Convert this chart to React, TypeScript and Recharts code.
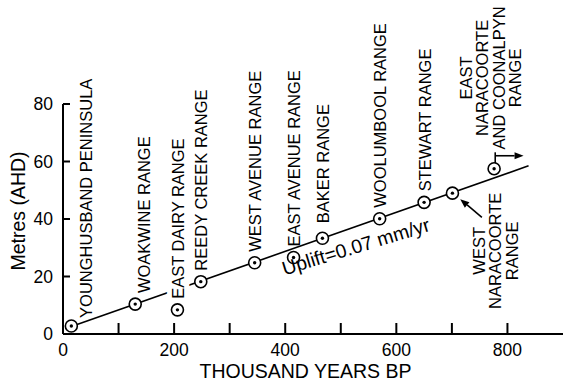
import React from "react";
import {
  ScatterChart,
  Scatter,
  XAxis,
  YAxis,
  ReferenceLine,
  ReferenceDot,
} from "recharts";

// beach ridge ranges: age (thousand years BP) and elevation (m AHD)
const rangeNames = [
  "YOUNGHUSBAND PENINSULA",
  "WOAKWINE RANGE",
  "EAST DAIRY RANGE",
  "REEDY CREEK RANGE",
  "WEST AVENUE RANGE",
  "EAST AVENUE RANGE",
  "BAKER RANGE",
  "WOOLUMBOOL RANGE",
  "STEWART RANGE",
  "WEST NARACOORTE RANGE",
  "EAST NARACOORTE AND COONALPYN RANGE",
];
const rangeAges = [15, 130, 206, 248, 345, 415, 467, 570, 650, 701, 776];
const rangeHeights = [2.8, 10.4, 8.4, 18.2, 24.8, 26.6, 33.3, 40.1, 45.8, 49.0, 57.5];

// fitted uplift line
const upliftAges = [15, 838];
const upliftHeights = [2.6, 58.5];
const upliftText = "Uplift=0.07 mm/yr";
const upliftTextAge = 527;
const upliftTextHeight = 30.5;

// pointer to West Naracoorte, and "older than" marker on East Naracoorte
const westPointerAges = [754, 715];
const westPointerHeights = [40.6, 46.9];
const eastBarAges = [778, 778];
const eastBarHeights = [58.3, 63.2];
const eastArrowAges = [778, 829];
const eastArrowHeights = [62, 62];

const xTicks = [0, 100, 200, 300, 400, 500, 600, 700, 800];
const xLabelled = [0, 200, 400, 600, 800];
const yTicks = [0, 20, 40, 60, 80];

const points = rangeNames.map((name, i) => ({
  name,
  x: rangeAges[i],
  y: rangeHeights[i],
}));
const upliftLine = upliftAges.map((x, i) => ({ x, y: upliftHeights[i] }));

const FONT = "'Liberation Sans', Arial, Helvetica, sans-serif";

// multi-line labels
const stacked: Record<string, string[]> = {
  "WEST NARACOORTE RANGE": ["WEST", "NARACOORTE", "RANGE"],
  "EAST NARACOORTE AND COONALPYN RANGE": ["EAST", "NARACOORTE", "AND COONALPYN", "RANGE"],
};
// nudges for single-line labels (baseline offset, start offset)
const nudge: Record<string, [number, number]> = {
  "YOUNGHUSBAND PENINSULA": [21, -8],
  "WOAKWINE RANGE": [15, -11],
  "BAKER RANGE": [6.5, -15],
};

const RangePoint = (props: any) => {
  const { cx, cy, payload } = props;
  const name: string = payload.name;
  let label: React.ReactNode;
  const lines = stacked[name];
  if (lines) {
    const below = name.startsWith("WEST");
    const bx0 = below ? cx + 32.3 : cx - 22.5;
    const my = below ? cy + 57.7 : cy - 90.8;
    label = lines.map((t, i) => {
      const bx = bx0 + i * 16.5;
      return (
        <text
          key={t}
          x={bx}
          y={my}
          transform={`rotate(-90 ${bx} ${my})`}
          textAnchor="middle"
          fontSize={16.5}
          fontFamily={FONT}
          fill="#000"
        >
          {t}
        </text>
      );
    });
  } else {
    const [dx, dy] = nudge[name] || [6.5, -11];
    const bx = cx + dx;
    const by = cy + dy;
    const halo = name === "EAST DAIRY RANGE";
    label = (
      <text
        x={bx}
        y={by}
        transform={`rotate(-90 ${bx} ${by})`}
        textAnchor="start"
        fontSize={16.5}
        fontFamily={FONT}
        fill="#000"
        stroke={halo ? "#fff" : undefined}
        strokeWidth={halo ? 10 : undefined}
        paintOrder="stroke"
      >
        {name}
      </text>
    );
  }
  return (
    <g>
      {label}
      <circle cx={cx} cy={cy} r={6} fill="#fff" stroke="#000" strokeWidth={1.6} />
      <circle cx={cx} cy={cy} r={1.7} fill="#000" />
    </g>
  );
};

const Arrow = (props: any) => {
  const { x1, y1, x2, y2, head } = props;
  const a = Math.atan2(y2 - y1, x2 - x1);
  const len = 9;
  const w = 3.6;
  const bx = x2 - len * Math.cos(a);
  const by = y2 - len * Math.sin(a);
  const px = -Math.sin(a) * w;
  const py = Math.cos(a) * w;
  return (
    <g>
      <line x1={x1} y1={y1} x2={head ? bx : x2} y2={head ? by : y2} stroke="#000" strokeWidth={1.6} />
      {head && (
        <polygon
          points={`${x2},${y2} ${bx + px},${by + py} ${bx - px},${by - py}`}
          fill="#000"
        />
      )}
    </g>
  );
};

// tick size is negative so the tick marks point into the plot;
// the margin brings the label anchor back onto the axis line
const XTick = (props: any) => {
  const { x, y, payload } = props;
  if (!xLabelled.includes(payload.value)) return <g />;
  return (
    <text x={x} y={y + 22} textAnchor="middle" fontSize={17.5} fontFamily={FONT} fill="#000">
      {payload.value}
    </text>
  );
};

const YTick = (props: any) => {
  const { x, y, payload } = props;
  return (
    <text x={x - 10} y={y + 6} textAnchor="end" fontSize={17.5} fontFamily={FONT} fill="#000">
      {payload.value}
    </text>
  );
};

const XTitle = (props: any) => {
  const { viewBox } = props;
  return (
    <text
      x={viewBox.x + viewBox.width / 2 - 7.5}
      y={viewBox.y + 44}
      textAnchor="middle"
      fontSize={19.5}
      fontFamily={FONT}
      fill="#000"
    >
      THOUSAND YEARS BP
    </text>
  );
};

const YTitle = (props: any) => {
  const { viewBox } = props;
  const x = viewBox.x + 25;
  const y = viewBox.y + viewBox.height / 2 - 8;
  return (
    <text
      x={x}
      y={y}
      transform={`rotate(-90 ${x} ${y})`}
      textAnchor="middle"
      fontSize={19.5}
      fontFamily={FONT}
      fill="#000"
    >
      Metres (AHD)
    </text>
  );
};

const UpliftLabel = (props: any) => {
  const { cx, cy } = props;
  return (
    <text
      x={cx}
      y={cy}
      transform={`rotate(-17 ${cx} ${cy})`}
      textAnchor="middle"
      dominantBaseline="central"
      fontSize={19.5}
      fontFamily={FONT}
      fill="#000"
    >
      {upliftText}
    </text>
  );
};

const seg = (ages: number[], heights: number[]) =>
  ages.map((x, i) => ({ x, y: heights[i] }));

export default function App() {
  return (
    <div style={{ width: 563, height: 384, background: "#fff" }}>
      <style>{"body{margin:0}"}</style>
      <ScatterChart
        width={563}
        height={384}
        margin={{ top: 104, right: 0, bottom: 0, left: 0 }}
      >
        <XAxis
          type="number"
          dataKey="x"
          domain={[0, 900]}
          ticks={xTicks}
          interval={0}
          height={50}
          tickSize={-11}
          tickMargin={11}
          tickLine={{ stroke: "#000", strokeWidth: 2 }}
          tick={<XTick />}
          axisLine={{ stroke: "#000", strokeWidth: 2 }}
          label={{ content: <XTitle /> }}
        />
        <YAxis
          type="number"
          dataKey="y"
          domain={[0, 80]}
          ticks={yTicks}
          interval={0}
          width={63}
          tickSize={-7}
          tickMargin={7}
          tickLine={{ stroke: "#000", strokeWidth: 2 }}
          tick={<YTick />}
          axisLine={{ stroke: "#000", strokeWidth: 2 }}
          label={{ content: <YTitle /> }}
        />
        <Scatter
          data={upliftLine}
          line={{ stroke: "#000", strokeWidth: 1.6 }}
          shape={() => <g />}
          isAnimationActive={false}
        />
        <Scatter data={points} shape={<RangePoint />} isAnimationActive={false} />
        <ReferenceLine
          segment={seg(westPointerAges, westPointerHeights)}
          shape={(p: any) => <Arrow {...p} head />}
        />
        <ReferenceLine
          segment={seg(eastBarAges, eastBarHeights)}
          shape={(p: any) => <Arrow {...p} />}
        />
        <ReferenceLine
          segment={seg(eastArrowAges, eastArrowHeights)}
          shape={(p: any) => <Arrow {...p} head />}
        />
        <ReferenceDot
          x={upliftTextAge}
          y={upliftTextHeight}
          r={0}
          shape={<UpliftLabel />}
        />
      </ScatterChart>
    </div>
  );
}
